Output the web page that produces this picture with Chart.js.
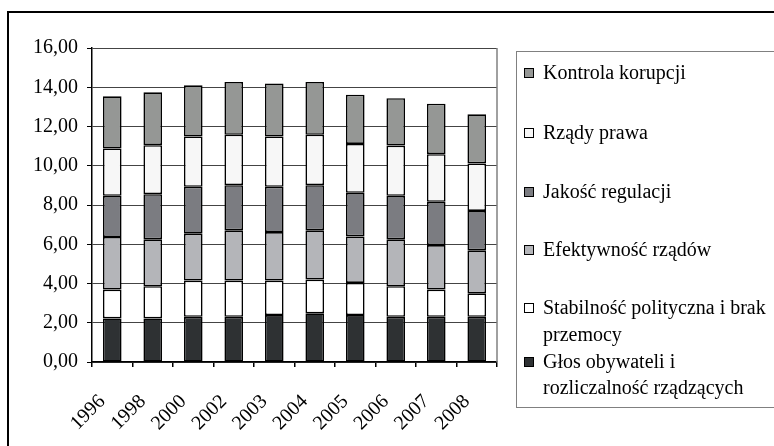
<!DOCTYPE html>
<html>
<head>
<meta charset="utf-8">
<script src="https://cdn.jsdelivr.net/npm/chart.js@4.4.1/dist/chart.umd.min.js"></script>
<style>
  html, body { margin: 0; padding: 0; background: #fff; }
  body { width: 774px; height: 446px; overflow: hidden; position: relative; font-family: "Liberation Serif", "Times New Roman", serif; }
  #frame { position: absolute; left: 7px; top: 11px; width: 820px; height: 500px; border: 2px solid #000; box-sizing: border-box; }
  #chart { position: absolute; left: 0; top: 0; }
  #legend { position: absolute; left: 516px; top: 51px; width: 300px; height: 357px; border: 1.5px solid #808080; box-sizing: border-box; }
  .item { position: absolute; left: 7px; font-size: 20px; line-height: 26.7px; white-space: nowrap; color: #000; }
  .mark { position: absolute; left: 0; top: 9px; width: 10px; height: 10px; border: 1.5px solid #000; box-sizing: border-box; }
  .txt { margin-left: 19px; }
</style>
</head>
<body>
<div id="frame"></div>
<canvas id="chart" width="774" height="446"></canvas>
<div id="legend"></div>
<script>
let years = ["1996", "1998", "2000", "2002", "2003", "2004", "2005", "2006", "2007", "2008"];

// stacked from bottom to top
let glos = [2.22, 2.22, 2.30, 2.30, 2.39, 2.48, 2.39, 2.30, 2.30, 2.30];
let stabilnosc = [1.47, 1.64, 1.85, 1.85, 1.76, 1.72, 1.64, 1.56, 1.39, 1.20];
let efektywnosc = [2.68, 2.39, 2.39, 2.56, 2.47, 2.51, 2.37, 2.39, 2.27, 2.19];
let jakosc = [2.10, 2.30, 2.39, 2.30, 2.31, 2.30, 2.22, 2.22, 2.20, 2.01];
let rzady = [2.41, 2.50, 2.56, 2.57, 2.56, 2.57, 2.49, 2.56, 2.43, 2.42];
let kontrola = [2.66, 2.69, 2.61, 2.69, 2.70, 2.69, 2.51, 2.41, 2.57, 2.50];

let yTicks = [0, 2, 4, 6, 8, 10, 12, 14, 16];

let seriesNames = [
  "Głos obywateli i\nrozliczalność rządzących",
  "Stabilność polityczna i brak\nprzemocy",
  "Efektywność rządów",
  "Jakość regulacji",
  "Rządy prawa",
  "Kontrola korupcji",
];
let seriesColors = ["#2e3133", "#ffffff", "#b4b5b9", "#7b7c81", "#f7f7f7", "#959795"];
let seriesData = [glos, stabilnosc, efektywnosc, jakosc, rzady, kontrola];

const fontFamily = '"Liberation Serif", "Times New Roman", serif';

// gray frame on the right side of the plot area
const plotBorder = {
  id: "plotBorder",
  beforeDatasetsDraw(chart) {
    const { ctx, chartArea } = chart;
    ctx.save();
    ctx.strokeStyle = "#808080";
    ctx.lineWidth = 1.5;
    ctx.beginPath();
    ctx.moveTo(chartArea.right, chartArea.top);
    ctx.lineTo(chartArea.right, chartArea.bottom);
    ctx.stroke();
    ctx.restore();
  },
};

renderChart();
renderLegend();

function renderChart() {
  let ctx = document.querySelector("#chart");
  new Chart(ctx, {
    type: "bar",
    data: {
      labels: years,
      datasets: seriesData.map((d, i) => ({
        label: seriesNames[i],
        data: d,
        backgroundColor: seriesColors[i],
        borderColor: "#000",
        borderWidth: 1.6,
        borderSkipped: false,
        barPercentage: 0.46,
        categoryPercentage: 1,
      })),
    },
    options: {
      responsive: false,
      animation: false,
      devicePixelRatio: 1,
      layout: { padding: { left: 0, top: 48, right: 277, bottom: 0 } },
      plugins: { legend: { display: false }, tooltip: { enabled: false } },
      scales: {
        x: {
          stacked: true,
          afterFit: (s) => { s.height = 84; },
          border: { color: "#000", width: 1.5 },
          grid: { offset: true, drawOnChartArea: false, drawTicks: true, tickLength: 5, tickColor: "#000", lineWidth: 1.5 },
          ticks: {
            autoSkip: false,
            minRotation: 45,
            maxRotation: 45,
            labelOffset: -10,
            padding: 23,
            color: "#000",
            font: { family: fontFamily, size: 20 },
          },
        },
        y: {
          stacked: true,
          min: 0,
          max: 16,
          afterFit: (s) => { s.width = 92; },
          afterBuildTicks: (s) => { s.ticks = yTicks.map((v) => ({ value: v })); },
          border: { color: "#000", width: 1.5 },
          grid: { color: "#444", lineWidth: 1, tickLength: 5, tickColor: "#000" },
          ticks: {
            padding: 9,
            color: "#000",
            font: { family: fontFamily, size: 20 },
            callback: (v) => v.toFixed(2).replace(".", ","),
          },
        },
      },
    },
    plugins: [plotBorder],
  });
}

function renderLegend() {
  let box = document.querySelector("#legend");
  // first-line centres of each entry, top to bottom
  let tops = [7, 67, 125.5, 184, 242, 295.5];
  let order = seriesNames.map((_, i) => i).reverse();
  order.forEach((idx, k) => {
    let item = document.createElement("div");
    item.className = "item";
    item.style.top = tops[k] + "px";
    let mark = document.createElement("span");
    mark.className = "mark";
    mark.style.background = seriesColors[idx];
    let txt = document.createElement("div");
    txt.className = "txt";
    txt.innerHTML = seriesNames[idx].split("\n").join("<br>");
    item.appendChild(mark);
    item.appendChild(txt);
    box.appendChild(item);
  });
}
</script>
</body>
</html>
